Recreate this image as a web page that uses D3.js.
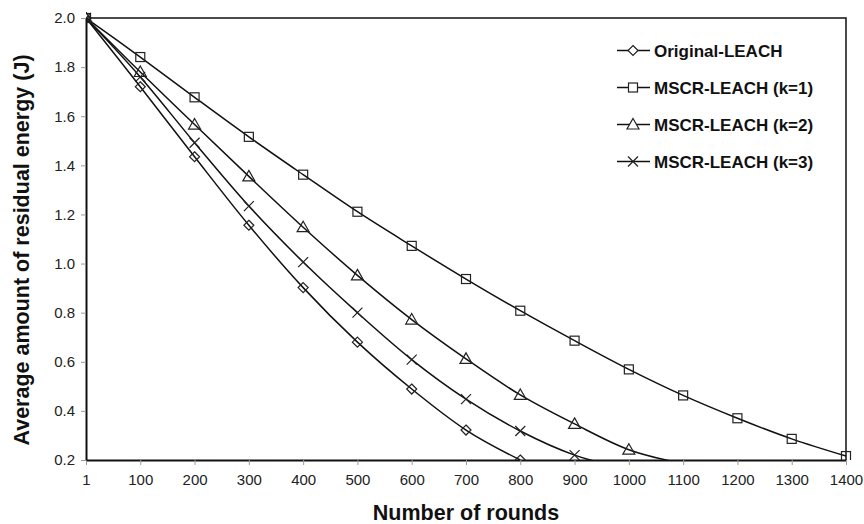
<!DOCTYPE html>
<html>
<head>
<meta charset="utf-8">
<script src="https://cdn.jsdelivr.net/npm/d3@7"></script>
<style>
  body { margin: 0; background: #fff; }
  text { font-family: "Liberation Sans", Arial, sans-serif; }
</style>
</head>
<body>
<div class="vis-holder"></div>
<script>
// x categories (number of rounds)
var rounds = [1, 100, 200, 300, 400, 500, 600, 700, 800, 900, 1000, 1100, 1200, 1300, 1400];
var yTicks = [0.2, 0.4, 0.6, 0.8, 1.0, 1.2, 1.4, 1.6, 1.8, 2.0];

// residual energy per series (values under 0.2 are clipped by the axis)
var original = [2.0, 1.72, 1.435, 1.156, 0.902, 0.68, 0.489, 0.322, 0.2];
var k1 = [2.0, 1.841, 1.677, 1.516, 1.362, 1.211, 1.072, 0.937, 0.808, 0.686, 0.569, 0.463, 0.37, 0.286, 0.216];
var k2 = [2.0, 1.78, 1.566, 1.355, 1.148, 0.952, 0.772, 0.612, 0.465, 0.347, 0.242, 0.185];
var k3 = [2.0, 1.76, 1.492, 1.234, 1.006, 0.8, 0.609, 0.448, 0.318, 0.22, 0.162];

var seriesNames = ["Original-LEACH", "MSCR-LEACH (k=1)", "MSCR-LEACH (k=2)", "MSCR-LEACH (k=3)"];
var seriesShapes = ["diamond", "square", "triangle", "cross"];

var series = [original, k1, k2, k3].map(function(vals, i) {
  return {
    name: seriesNames[i],
    shape: seriesShapes[i],
    values: vals.map(function(v, j) { return { r: rounds[j], v: v }; })
  };
});

var width = 864;
var height = 524;
var margin = { top: 18, bottom: 64, left: 86, right: 18 };

var svg = d3.select('div.vis-holder')
            .append('svg')
            .attr('width', width)
            .attr('height', height)
            .style('background', '#fff');

var xScale = d3.scalePoint()
               .domain(rounds)
               .range([margin.left, width - margin.right]);

var yScale = d3.scaleLinear()
               .domain([0.2, 2.0])
               .range([height - margin.bottom, margin.top]);

svg.append("clipPath").attr("id", "plot-clip")
   .append("rect")
   .attr("x", margin.left)
   .attr("y", margin.top - 6)
   .attr("width", width - margin.left - margin.right + 6)
   .attr("height", height - margin.bottom - margin.top + 6);

// frame (top and right)
svg.append("path")
   .attr("d", "M" + margin.left + "," + margin.top + "H" + (width - margin.right) + "V" + (height - margin.bottom))
   .attr("fill", "none")
   .attr("stroke", "#111")
   .attr("stroke-width", 1.5);

var xAxis = svg.append("g")
               .attr("transform", "translate(0," + (height - margin.bottom) + ")")
               .call(d3.axisBottom(xScale).tickSize(5).tickSizeOuter(0).tickPadding(9));

var yAxis = svg.append("g")
               .attr("transform", "translate(" + margin.left + ",0)")
               .call(d3.axisLeft(yScale).tickValues(yTicks).tickFormat(d3.format(".1f")).tickSize(5).tickSizeOuter(0).tickPadding(6));

[xAxis, yAxis].forEach(function(ax) {
  ax.select(".domain").attr("stroke", "#111").attr("stroke-width", 2);
  ax.selectAll(".tick line").attr("stroke", "#999");
  ax.selectAll(".tick text")
    .attr("fill", "#222")
    .style("font-size", "15px")
    .style("font-family", "'Liberation Sans', Arial, sans-serif");
});

var line = d3.line()
             .x(function(d) { return xScale(d.r); })
             .y(function(d) { return yScale(d.v); })
             .curve(d3.curveCardinal.tension(0));

var plot = svg.append("g").attr("clip-path", "url(#plot-clip)");

plot.selectAll("path.series")
    .data(series)
    .enter()
    .append("path")
    .attr("class", "series")
    .attr("d", function(d) { return line(d.values); })
    .attr("fill", "none")
    .attr("stroke", "#111")
    .attr("stroke-width", 1.5);

function marker(sel, shape) {
  if (shape === "diamond") {
    sel.append("path").attr("d", "M0,-5L5,0L0,5L-5,0Z");
  } else if (shape === "square") {
    sel.append("rect").attr("x", -4.5).attr("y", -4.5).attr("width", 9).attr("height", 9);
  } else if (shape === "triangle") {
    sel.append("path").attr("d", "M0,-6L6,4.5L-6,4.5Z");
  } else {
    sel.append("path").attr("d", "M-5,-5L5,5M-5,5L5,-5");
  }
  sel.selectAll("*").attr("fill", "none").attr("stroke", "#222").attr("stroke-width", 1.2);
}

series.forEach(function(s) {
  plot.append("g")
      .selectAll("g")
      .data(s.values.filter(function(d) { return d.v >= 0.2; }))
      .enter()
      .append("g")
      .attr("transform", function(d) { return "translate(" + xScale(d.r) + "," + yScale(d.v) + ")"; })
      .each(function() { marker(d3.select(this), s.shape); });
});

// legend
var legend = svg.append("g");
series.forEach(function(s, i) {
  var y = 50.5 + i * 37;
  legend.append("line")
        .attr("x1", 617).attr("x2", 650)
        .attr("y1", y).attr("y2", y)
        .attr("stroke", "#111").attr("stroke-width", 1.5);
  var g = legend.append("g").attr("transform", "translate(633," + y + ")");
  marker(g, s.shape);
  g.selectAll("*").attr("fill", "#fff");
  if (s.shape === "cross") g.selectAll("*").attr("fill", "none");
  legend.append("text")
        .attr("x", 654)
        .attr("y", y + 6)
        .style("font-size", "17px")
        .style("font-weight", "bold")
        .attr("fill", "#111")
        .text(s.name);
});

var yLabel = svg.append("text")
                .attr("text-anchor", "middle")
                .attr("transform", "translate(29,250)rotate(-90)")
                .style("font-size", "21.5px")
                .style("font-weight", "bold")
                .attr("fill", "#111")
                .text("Average amount of residual energy (J)");

var xLabel = svg.append("text")
                .attr("text-anchor", "middle")
                .attr("x", 466)
                .attr("y", 520)
                .style("font-size", "21.5px")
                .style("font-weight", "bold")
                .attr("fill", "#111")
                .text("Number of rounds");
</script>
</body>
</html>
